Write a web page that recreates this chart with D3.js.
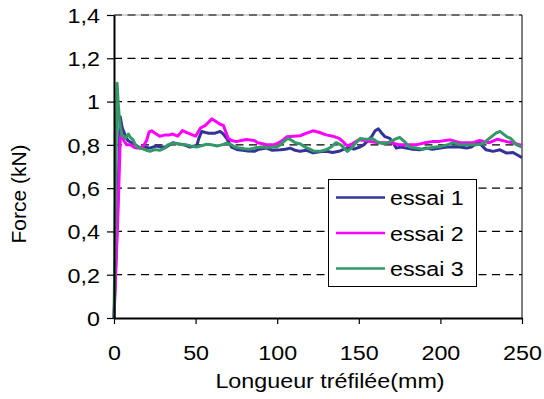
<!DOCTYPE html>
<html><head><meta charset="utf-8">
<script src="https://cdn.jsdelivr.net/npm/d3@7"></script>
<style>
html,body{margin:0;padding:0;background:#fff;}
svg{display:block;}
text{font-family:"Liberation Sans",Arial,sans-serif;fill:#000;}
</style></head>
<body><svg id="c" width="544" height="399"></svg>
<script>
const seriesNames = ["essai 1", "essai 2", "essai 3"];
const seriesColors = ["#333399", "#ff00ff", "#339966"];
const yTicks = [0, 0.2, 0.4, 0.6, 0.8, 1.0, 1.2, 1.4];
const xTicks = [0, 50, 100, 150, 200, 250];

const essai1X = [0,2.4,3.8,5,6.7,8.5,10.8,13,16,19,22,26,29,32,36,39,43,46.6,50.7,52,53.7,57.6,62,65,67,69,72,76,79,82,86,89,93.5,97,102,105,108,111,114,118,122,126,130,134,138.5,141,144.6,147,150.7,153,155,158,160,162,164,166,169,171,173,176,179,183,187.5,191,195,200,204,208,212,216,219,222,224,228,232.3,236.5,240.6,244.5,248.8,250];
const essai1Y = [0,0.55,0.93,0.88,0.846,0.82,0.81,0.80,0.785,0.79,0.785,0.795,0.79,0.79,0.81,0.805,0.80,0.79,0.797,0.83,0.862,0.854,0.854,0.862,0.85,0.83,0.79,0.777,0.775,0.772,0.77,0.78,0.785,0.775,0.777,0.78,0.785,0.775,0.77,0.775,0.763,0.768,0.77,0.765,0.772,0.78,0.788,0.78,0.79,0.80,0.815,0.84,0.865,0.874,0.855,0.838,0.83,0.81,0.785,0.79,0.785,0.78,0.777,0.785,0.78,0.785,0.79,0.79,0.79,0.785,0.79,0.805,0.808,0.777,0.77,0.777,0.762,0.765,0.746,0.74];

const essai2X = [0,2.5,3.8,4.5,6,7.8,10,12,14,16,18,20,21.5,23,25,28,31,34,36,39,42,45,48,50,53,56,58,60,62,65,67,69,70,72,75,78,81,83,86,88,91,94,98,101,104,106,110,114,118,122,126,130,134,138,141,143,146,150,154,157,162,166,170,175,180,185,190.6,195,198.6,203,206,212,216,220,224,230,235,240.6,245,249,250];
const essai2Y = [0,0.5,0.82,0.86,0.82,0.80,0.80,0.79,0.785,0.786,0.795,0.82,0.86,0.865,0.855,0.84,0.845,0.846,0.85,0.84,0.866,0.855,0.846,0.84,0.878,0.89,0.905,0.92,0.91,0.895,0.89,0.85,0.83,0.82,0.815,0.82,0.825,0.823,0.82,0.81,0.805,0.80,0.80,0.81,0.825,0.838,0.84,0.842,0.854,0.865,0.857,0.846,0.84,0.83,0.81,0.795,0.805,0.823,0.82,0.815,0.81,0.81,0.81,0.80,0.80,0.80,0.81,0.815,0.815,0.82,0.823,0.81,0.81,0.81,0.82,0.81,0.826,0.815,0.808,0.80,0.795];

const essai3X = [0,1,1.9,2.5,3.3,4,5,6,7,8.8,10,11.7,13,14.5,16,18,20,22,25,28,31,33,36,39,42,44.5,47,50.7,54,56.8,60,63,66,69,72,74,77,80,83,86,90,93.5,97,99.7,102,104,106.6,109,111,114,117,120,122,126,130,133,136,139,143,146,149,151,155,158,161,165,168,172,175,178,181,185,189,193,197,200,204,208,212,216,222,226,230,234,236.5,240.6,243,246.7,250];
const essai3Y = [0,0.6,1.085,1.0,0.92,0.88,0.84,0.84,0.83,0.85,0.835,0.823,0.80,0.79,0.785,0.78,0.775,0.77,0.778,0.775,0.785,0.80,0.808,0.805,0.80,0.80,0.795,0.79,0.797,0.803,0.80,0.795,0.80,0.808,0.80,0.79,0.785,0.782,0.78,0.785,0.79,0.788,0.79,0.79,0.80,0.815,0.83,0.82,0.81,0.805,0.79,0.78,0.772,0.77,0.777,0.79,0.81,0.80,0.77,0.79,0.815,0.83,0.825,0.83,0.815,0.805,0.81,0.825,0.835,0.815,0.79,0.785,0.78,0.785,0.79,0.792,0.80,0.81,0.80,0.80,0.80,0.805,0.83,0.854,0.862,0.838,0.83,0.80,0.79];

const seriesX = [essai1X, essai2X, essai3X];
const seriesY = [essai1Y, essai2Y, essai3Y];

const svg = d3.select("#c");
const L = 114, R = 522, T = 15, B = 318;
const x = d3.scaleLinear().domain([0, 250]).range([L, R]);
const y = d3.scaleLinear().domain([0, 1.4]).range([B, T]);
const SX = 1.11;
const FS = 21;

// gridlines
const grid = svg.append("g");
grid.selectAll("line.top").data([1.4]).enter().append("line")
  .attr("x1", L).attr("x2", R).attr("y1", d => y(d)).attr("y2", d => y(d))
  .attr("stroke", "#c8c8c8").attr("stroke-width", 1.5);
grid.selectAll("line.g").data(yTicks.filter(d => d > 0)).enter().append("line")
  .attr("x1", L).attr("x2", R).attr("y1", d => y(d)).attr("y2", d => y(d))
  .attr("stroke", "#000").attr("stroke-width", 1.2).attr("stroke-dasharray", "8,5.5");
// right border
svg.append("line").attr("x1", R).attr("x2", R).attr("y1", T).attr("y2", B)
  .attr("stroke", "#000").attr("stroke-width", 1);

// series
const line = d3.line().x(d => x(d[0])).y(d => y(d[1]));
seriesNames.forEach((n, i) => {
  const pts = seriesX[i].map((v, j) => [v, seriesY[i][j]]);
  svg.append("path").datum(pts).attr("d", line)
    .attr("fill", "none").attr("stroke", seriesColors[i])
    .attr("stroke-width", 3).attr("stroke-linejoin", "round");
});

// axes
const yAxis = svg.append("g").attr("transform", `translate(${L},0)`)
  .call(d3.axisLeft(y).tickValues(yTicks).tickSize(7).tickSizeOuter(0).tickFormat(d => {
    let s = d3.format(".1f")(d).replace(".", ",");
    if (s.endsWith(",0")) s = s.slice(0, -2);
    return s;
  }));
yAxis.select(".domain").attr("stroke-width", 2);
yAxis.selectAll(".tick line").attr("stroke-width", 1.2);
yAxis.selectAll("text").attr("font-size", FS).attr("font-family", null)
  .attr("x", -14 / SX).attr("dy", "0.35em").attr("transform", `scale(${SX},1)`);

const xAxis = svg.append("g").attr("transform", `translate(0,${B})`)
  .call(d3.axisBottom(x).tickValues(xTicks).tickSize(6).tickSizeOuter(0));
xAxis.select(".domain").attr("stroke-width", 2);
xAxis.selectAll(".tick line").attr("stroke-width", 1.2);
xAxis.selectAll("text").attr("font-size", FS).attr("font-family", null)
  .attr("y", 42).attr("dy", 0).attr("transform", `scale(${SX},1)`);
svg.selectAll(".domain").attr("stroke", "#000");

// titles
svg.append("text").attr("text-anchor", "middle").attr("font-size", FS)
  .attr("transform", `translate(330,388) scale(${SX},1)`).text("Longueur tréfilée(mm)");
svg.append("text").attr("text-anchor", "middle").attr("font-size", FS)
  .attr("transform", `translate(26,194) rotate(-90)`).text("Force (kN)");

// legend
const lg = svg.append("g");
lg.append("rect").attr("x", 328.5).attr("y", 179.5).attr("width", 148).attr("height", 107)
  .attr("fill", "#fff").attr("stroke", "#000").attr("stroke-width", 1);
const rowY = [197.5, 233, 268.5];
seriesNames.forEach((n, i) => {
  lg.append("line").attr("x1", 336).attr("x2", 385).attr("y1", rowY[i]).attr("y2", rowY[i])
    .attr("stroke", seriesColors[i]).attr("stroke-width", 2.6);
  lg.append("text").attr("font-size", FS)
    .attr("transform", `translate(390,${rowY[i] + 7.5}) scale(${SX},1)`).text(n);
});
</script></body></html>
